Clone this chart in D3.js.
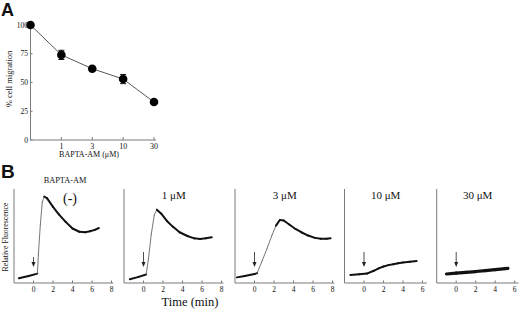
<!DOCTYPE html>
<html>
<head>
<meta charset="utf-8">
<script src="https://cdn.jsdelivr.net/npm/d3@7"></script>
<style>
  body { margin: 0; background: #fff; }
  text { font-family: "Liberation Serif", "DejaVu Serif", serif; fill: #111; }
  .big { font-family: "Liberation Sans", Arial, sans-serif; font-weight: bold; }
</style>
</head>
<body>
<div id="chart"></div>
<script>
// panel A data
const concLabels = ["0", "1", "3", "10", "30"]
const migration = [100, 74, 62, 53, 33]
const migrationErr = [0, 4, 2, 4, 1]
const yTicksA = [0, 25, 50, 75, 100]

// panel B data: [time (min), relative fluorescence]
const panelTitles = ["(-)", "1 \u03bcM", "3 \u03bcM", "10 \u03bcM", "30 \u03bcM"]
const timeTicks = [[0, 2, 4, 6, 8], [0, 2, 4, 6, 8], [0, 2, 4, 6, 8], [0, 2, 4, 6], [0, 2, 4, 6]]
const timeMax = [8.2, 8.2, 8.2, 6.45, 6.4]
const trace0 = [[-1.5,0.05],[-0.5,0.075],[0.4,0.10],[0.5,0.30],[0.7,0.62],[0.9,0.86],[1.1,0.92],[1.4,0.90],[2.0,0.81],[2.6,0.73],[3.3,0.65],[4.0,0.58],[4.7,0.545],[5.3,0.54],[5.8,0.55],[6.3,0.565],[6.7,0.585]]
const trace1 = [[-1.4,0.04],[-0.5,0.065],[0.27,0.09],[0.5,0.25],[0.8,0.52],[1.1,0.72],[1.37,0.78],[1.8,0.74],[2.4,0.66],[3.0,0.60],[3.7,0.54],[4.5,0.50],[5.2,0.475],[5.8,0.468],[6.4,0.475],[7.0,0.486]]
const trace2 = [[-1.8,0.06],[-1.0,0.075],[0,0.095],[0.27,0.105],[0.8,0.24],[1.3,0.37],[1.8,0.51],[2.2,0.61],[2.6,0.67],[3.0,0.665],[3.6,0.62],[4.2,0.575],[4.8,0.54],[5.5,0.505],[6.2,0.48],[6.8,0.47],[7.4,0.47],[7.8,0.475]]
const trace3 = [[-1.4,0.085],[-0.5,0.092],[0.3,0.10],[1.0,0.13],[1.5,0.155],[2.0,0.175],[2.5,0.19],[3.0,0.20],[3.5,0.21],[4.0,0.218],[4.7,0.226],[5.4,0.235]]
const trace4 = [[-1.0,0.096],[0,0.105],[1,0.113],[2,0.122],[3,0.132],[4,0.142],[5.3,0.156]]
const traces = [trace0, trace1, trace2, trace3, trace4]

const width = 520
const height = 309
const axisColor = "#7a7a7a"

let svg = d3.select("#chart")
  .append("svg")
  .attr("width", width)
  .attr("height", height)

// ---------- panel A ----------
svg.append("text").attr("class", "big")
  .attr("x", 1).attr("y", 16)
  .style("font-size", "18px")
  .text("A")

let xA = d3.scalePoint().domain(concLabels).range([30.5, 154])
let yA = d3.scaleLinear().domain([0, 100]).range([140, 25])

let gA = svg.append("g")

gA.append("line")
  .attr("x1", 30.5).attr("x2", 156)
  .attr("y1", yA(0)).attr("y2", yA(0))
  .attr("stroke", axisColor)
gA.append("line")
  .attr("x1", 30.5).attr("x2", 30.5)
  .attr("y1", yA(0)).attr("y2", yA(100) - 1)
  .attr("stroke", axisColor)

gA.selectAll(".ytick")
  .data(yTicksA)
  .join("text")
  .attr("x", 28)
  .attr("y", d => yA(d) + 2.5)
  .attr("text-anchor", "end")
  .style("font-size", "7.5px")
  .text(d => d)

gA.selectAll(".ytk")
  .data(yTicksA)
  .join("line")
  .attr("x1", 30.5).attr("x2", 32.5)
  .attr("y1", d => yA(d)).attr("y2", d => yA(d))
  .attr("stroke", axisColor)

gA.selectAll(".xtk")
  .data(concLabels.slice(1))
  .join("line")
  .attr("x1", d => xA(d)).attr("x2", d => xA(d))
  .attr("y1", yA(0)).attr("y2", yA(0) - 3)
  .attr("stroke", axisColor)

gA.selectAll(".xlab")
  .data(concLabels.slice(1))
  .join("text")
  .attr("x", d => xA(d))
  .attr("y", 148.5)
  .attr("text-anchor", "middle")
  .style("font-size", "8px")
  .text(d => d)

gA.append("text")
  .attr("x", 89).attr("y", 157)
  .attr("text-anchor", "middle")
  .style("font-size", "8px")
  .text("BAPTA-AM (\u03bcM)")

gA.append("text")
  .attr("transform", "translate(12,79) rotate(-90)")
  .attr("text-anchor", "middle")
  .style("font-size", "8.5px")
  .text("% cell migration")

let lineA = d3.line()
  .x((d, i) => xA(concLabels[i]))
  .y(d => yA(d))

gA.append("path")
  .attr("d", lineA(migration))
  .attr("fill", "none")
  .attr("stroke", "#444")
  .attr("stroke-width", 0.9)

migration.forEach((v, i) => {
  let e = migrationErr[i]
  if (e > 0) {
    let cx = xA(concLabels[i])
    gA.append("line")
      .attr("x1", cx).attr("x2", cx)
      .attr("y1", yA(v - e)).attr("y2", yA(v + e))
      .attr("stroke", "#111")
    ;[v - e, v + e].forEach(w => {
      gA.append("line")
        .attr("x1", cx - 3).attr("x2", cx + 3)
        .attr("y1", yA(w)).attr("y2", yA(w))
        .attr("stroke", "#111")
    })
  }
})

gA.selectAll("circle")
  .data(migration)
  .join("circle")
  .attr("cx", (d, i) => xA(concLabels[i]))
  .attr("cy", d => yA(d))
  .attr("r", 4.3)
  .attr("fill", "#000")

// ---------- panel B ----------
svg.append("text").attr("class", "big")
  .attr("x", 1).attr("y", 178)
  .style("font-size", "19px")
  .text("B")

const panelLeft = [14, 124, 235, 344.5, 436.7]
const pxPerMin = 9.75
let yB = d3.scaleLinear().domain([0, 1]).range([283, 189])

svg.append("text")
  .attr("transform", "translate(8,237) rotate(-90)")
  .attr("text-anchor", "middle")
  .style("font-size", "7.8px")
  .text("Relative Fluorescence")

svg.append("text")
  .attr("x", 65).attr("y", 183)
  .attr("text-anchor", "middle")
  .style("font-size", "8.3px")
  .text("BAPTA-AM")

traces.forEach((trace, p) => {
  let left = panelLeft[p]
  let x = d3.scaleLinear()
    .domain([-2, timeMax[p]])
    .range([left, left + (timeMax[p] + 2) * pxPerMin])

  let g = svg.append("g")

  // axes
  g.append("line")
    .attr("x1", left).attr("x2", x.range()[1])
    .attr("y1", yB(0)).attr("y2", yB(0))
    .attr("stroke", axisColor)
  g.append("line")
    .attr("x1", left).attr("x2", left)
    .attr("y1", yB(0)).attr("y2", yB(1))
    .attr("stroke", axisColor)

  g.selectAll(".tk")
    .data(timeTicks[p])
    .join("line")
    .attr("x1", d => x(d)).attr("x2", d => x(d))
    .attr("y1", yB(0)).attr("y2", yB(0) - 2.5)
    .attr("stroke", axisColor)

  g.selectAll(".tl")
    .data(timeTicks[p])
    .join("text")
    .attr("x", d => x(d))
    .attr("y", 291.5)
    .attr("text-anchor", "middle")
    .style("font-size", "7.5px")
    .text(d => d)

  // title
  let mid = (left + x.range()[1]) / 2
  g.append("text")
    .attr("x", p == 0 ? 70 : mid)
    .attr("y", p == 0 ? 203 : 199)
    .attr("text-anchor", "middle")
    .style("font-size", p == 0 ? "14px" : "11px")
    .text(panelTitles[p])

  // trace: steep rising parts drawn thin and grey, the rest thick
  for (let i = 0; i < trace.length - 1; i++) {
    let a = trace[i], b = trace[i + 1]
    let slope = Math.abs((yB(b[1]) - yB(a[1])) / (x(b[0]) - x(a[0])))
    let steep = slope > 2
    g.append("line")
      .attr("x1", x(a[0])).attr("y1", yB(a[1]))
      .attr("x2", x(b[0])).attr("y2", yB(b[1]))
      .attr("stroke", steep ? "#666" : "#111")
      .attr("stroke-width", steep ? 0.9 : (p == 4 ? 3.2 : 2))
      .attr("stroke-linecap", "round")
  }

  // stimulus arrow at t = 0
  let ax = x(0)
  g.append("line")
    .attr("x1", ax).attr("x2", ax)
    .attr("y1", p == 0 ? 257 : 252).attr("y2", 265)
    .attr("stroke", "#222")
    .attr("stroke-width", 0.8)
  g.append("path")
    .attr("d", d3.line()([[ax - 2, 262], [ax + 2, 262], [ax, 267]]))
    .attr("fill", "#222")
})

svg.append("text")
  .attr("x", 190).attr("y", 305.5)
  .attr("text-anchor", "middle")
  .style("font-size", "12.5px")
  .text("Time (min)")
</script>
</body>
</html>
